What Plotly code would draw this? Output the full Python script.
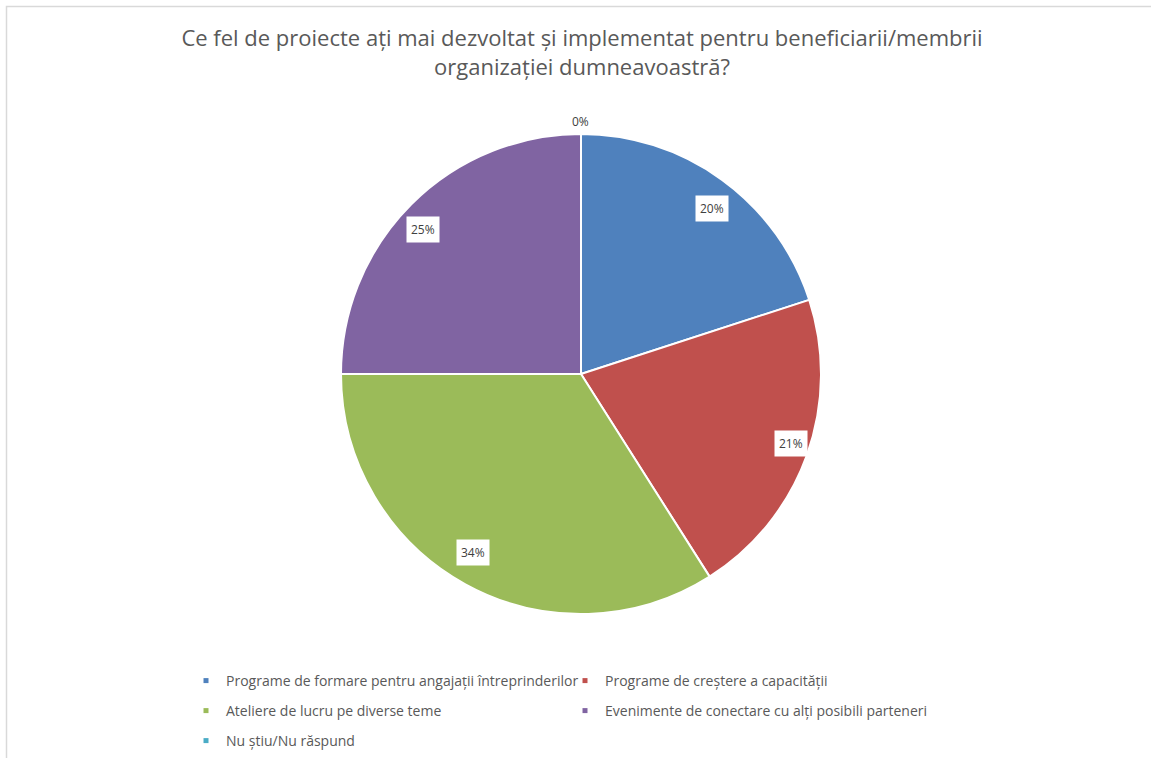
import math
import plotly.graph_objects as go

categories = [
    "Programe de formare pentru angajații întreprinderilor",
    "Programe de creștere a capacității",
    "Ateliere de lucru pe diverse teme",
    "Evenimente de conectare cu alți posibili parteneri",
    "Nu știu/Nu răspund",
]
values = [20, 21, 34, 25, 0]
colors = ["#4F81BD", "#C0504D", "#9BBB59", "#8064A2", "#4BACC6"]
title_text = ("Ce fel de proiecte ați mai dezvoltat și implementat pentru beneficiarii/membrii"
              "<br>organizației dumneavoastră?")

W, H = 1151, 758
cx, cy, R = 581, 374, 240
FONT = "Open Sans, Noto Sans, sans-serif"

fig = go.Figure()
fig.add_trace(go.Pie(
    labels=categories,
    values=values,
    marker=dict(colors=colors, line=dict(color="white", width=2)),
    sort=False,
    direction="clockwise",
    rotation=0,
    textinfo="none",
    hoverinfo="label+percent",
    domain=dict(x=[(cx - R) / W, (cx + R) / W], y=[(H - cy - R) / H, (H - cy + R) / H]),
    showlegend=False,
))

# legend entries (one legend per row, like the reference layout)
legend_ids = ["legend", "legend", "legend2", "legend2", "legend3"]
for name, col, lg in zip(categories, colors, legend_ids):
    fig.add_trace(go.Scatter(
        x=[None], y=[None], mode="markers", name=name, legend=lg,
        marker=dict(symbol="square", size=5, color=col),
        hoverinfo="skip",
    ))

total = sum(values)
annotations = []
cum = 0
for v in values:
    frac = v / total
    mid = (cum + frac / 2) * 2 * math.pi
    cum += frac
    if v > 0:
        rx, ry = 0.93 * R, 0.85 * R
    else:
        rx = ry = 1.05 * R
    px = cx + rx * math.sin(mid)
    py = cy - ry * math.cos(mid)
    annotations.append(dict(
        x=px / W, y=1 - py / H, xref="paper", yref="paper",
        xanchor="center", yanchor="middle",
        text=f"{round(frac * 100)}%", showarrow=False,
        font=dict(family=FONT, size=12, color="#404040"),
        bgcolor="white" if v > 0 else "rgba(0,0,0,0)",
        borderpad=4 if v > 0 else 0,
    ))

legend_style = dict(orientation="h", x=186 / W, xanchor="left", yanchor="middle",
                    entrywidth=334, entrywidthmode="pixels", bgcolor="rgba(0,0,0,0)",
                    font=dict(family=FONT, size=14, color="#595959"),
                    itemclick=False, itemdoubleclick=False)

fig.update_layout(
    width=W, height=H,
    margin=dict(l=0, r=0, t=0, b=0),
    paper_bgcolor="white",
    plot_bgcolor="white",
    xaxis=dict(visible=False),
    yaxis=dict(visible=False),
    title=dict(text=title_text, x=582 / W, xanchor="center", y=1 - 46 / H, yanchor="top",
               font=dict(family=FONT, size=22, color="#595959")),
    legend=dict(y=1 - 681 / H, **legend_style),
    legend2=dict(y=1 - 711 / H, **legend_style),
    legend3=dict(y=1 - 741 / H, **legend_style),
    annotations=annotations,
    shapes=[dict(type="rect", xref="paper", yref="paper", x0=6.5 / W, x1=1.05, y0=-0.05, y1=1 - 6.5 / H,
                 line=dict(color="#D9D9D9", width=1.5), layer="below")],
)

fig.write_html("out.html", config={"displayModeBar": False},
               post_script="document.body.style.margin='0';")
